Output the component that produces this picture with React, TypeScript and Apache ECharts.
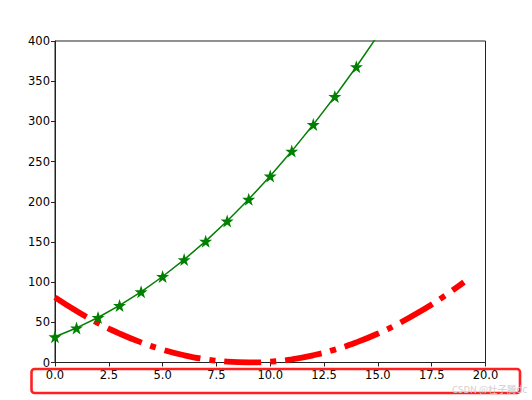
import { useEffect, useRef } from 'react';
import * as echarts from 'echarts';

// 绿色曲线（整数 x 处的星形标记）
const greenX = [0, 1, 2, 3, 4, 5, 6, 7, 8, 9, 10, 11, 12, 13, 14, 15, 16];
const greenY = [32, 43, 56, 71, 88, 107, 128, 151, 176, 203, 232, 263, 296, 331, 368, 407, 448];

// 红色点划线
const redX = [0, 1, 2, 3, 4, 5, 6, 7, 8, 9, 10, 11, 12, 13, 14, 15, 16, 17, 18, 19];
const redY = [81, 64, 49, 36, 25, 16, 9, 4, 1, 0, 1, 4, 9, 16, 25, 36, 49, 64, 81, 100];

// 刻度
const xTicks = [0, 2.5, 5, 7.5, 10, 12.5, 15, 17.5, 20];
const yTicks = [0, 50, 100, 150, 200, 250, 300, 350, 400];

const STAR =
  'path://M50,0 L61.8,35.1 L97.6,35.1 L68.6,56.8 L79.4,91 L50,70 L20.6,91 L31.4,56.8 L2.4,35.1 L38.2,35.1 Z';

const FONT = 'DejaVu Sans';

const App = () => {
  const chartRef = useRef<HTMLDivElement>(null);

  useEffect(() => {
    if (!chartRef.current) return;
    const chart = echarts.init(chartRef.current, undefined, { renderer: 'svg' });

    const axisCommon = {
      type: 'value' as const,
      axisLine: { show: true, onZero: false, lineStyle: { color: '#222', width: 1 } },
      axisTick: { show: true, inside: false, length: 4, lineStyle: { color: '#222', width: 1 } },
      splitLine: { show: false },
      axisLabel: { color: '#000', fontSize: 11.5, fontFamily: FONT, margin: 5 },
    };

    const option: echarts.EChartsOption = {
      animation: false,
      backgroundColor: '#fff',
      grid: {
        left: 55,
        right: 46.5,
        top: 41,
        bottom: 37.5,
        show: true,
        borderColor: '#222',
        borderWidth: 1,
        backgroundColor: 'transparent',
      },
      xAxis: {
        ...axisCommon,
        min: xTicks[0],
        max: xTicks[xTicks.length - 1],
        interval: xTicks[1] - xTicks[0],
        axisLabel: {
          ...axisCommon.axisLabel,
          margin: 6.5,
          formatter: (v: number) => v.toFixed(1),
          showMaxLabel: true,
        },
      },
      yAxis: {
        ...axisCommon,
        min: yTicks[0],
        max: yTicks[yTicks.length - 1],
        interval: yTicks[1] - yTicks[0],
      },
      series: [
        {
          type: 'line',
          data: redX.map((x, i) => [x, redY[i]]),
          smooth: true,
          symbol: 'none',
          clip: true,
          lineStyle: { color: '#ff0000', width: 5.8, type: [37, 9, 6, 9], cap: 'butt' },
          z: 2,
        },
        {
          type: 'line',
          data: greenX.map((x, i) => [x, greenY[i]]),
          symbol: STAR,
          symbolSize: 13,
          clip: true,
          itemStyle: { color: '#008000' },
          lineStyle: { color: '#008000', width: 1.5 },
          z: 3,
        },
      ],
      graphic: [
        {
          type: 'rect',
          shape: { x: 31.5, y: 369, width: 488.5, height: 24, r: 3 },
          style: { fill: 'none', stroke: '#ff2020', lineWidth: 2.6 },
          z: 100,
        },
        {
          type: 'text',
          x: 452,
          y: 388.5,
          style: {
            text: 'CSDN @杜子腾dc',
            fill: '#cfcfcf',
            fontSize: 9.5,
            fontFamily: 'Noto Sans CJK SC',
            verticalAlign: 'middle',
          },
          z: 101,
        },
      ],
    };

    chart.setOption(option);
    return () => chart.dispose();
  }, []);

  return (
    <div
      ref={chartRef}
      style={{ position: 'absolute', left: 0, top: 0, width: 532, height: 400 }}
    />
  );
};

export default App;
